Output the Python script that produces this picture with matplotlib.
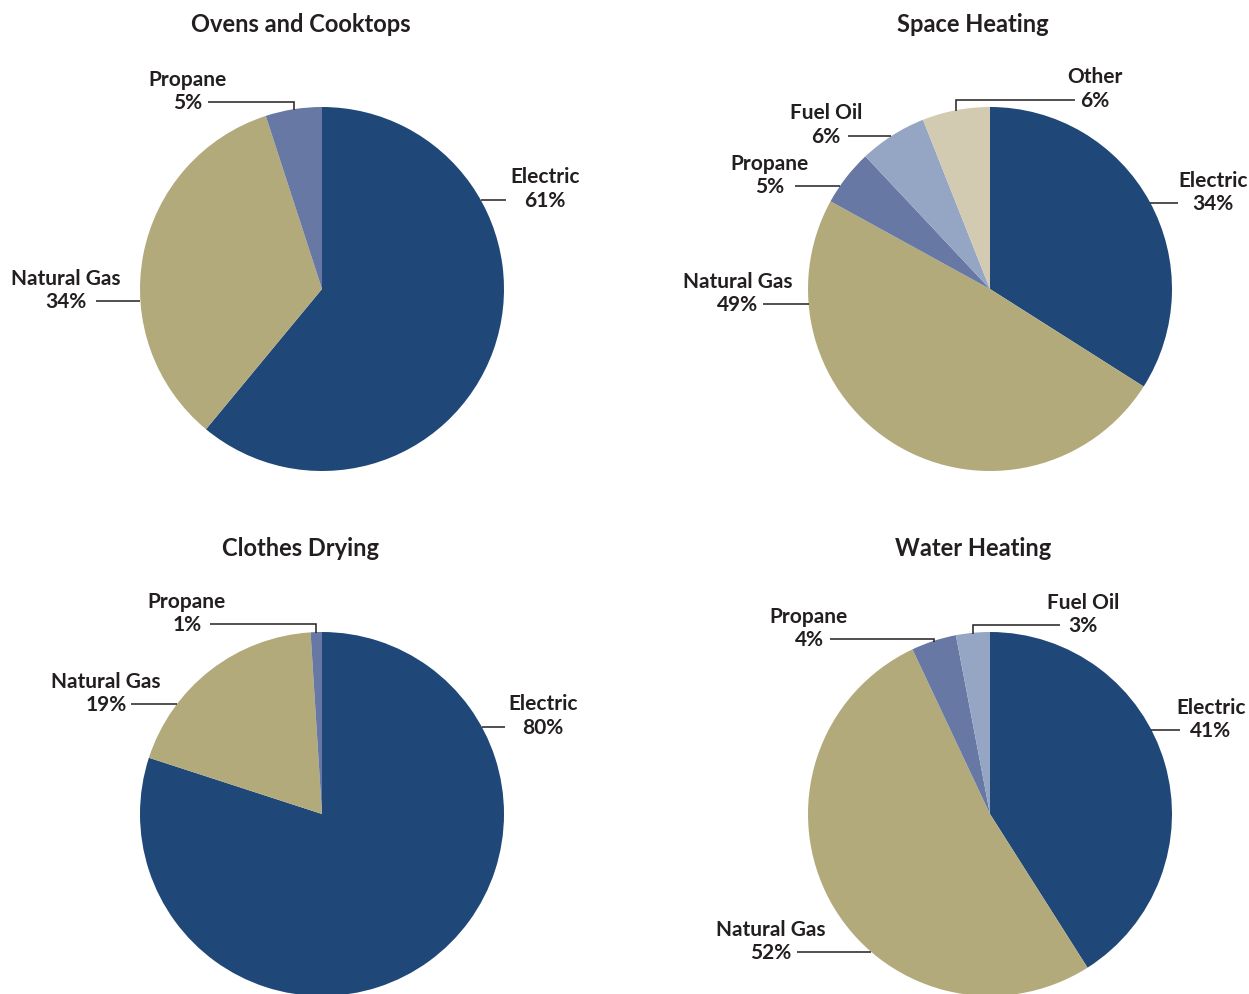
import numpy as np
import matplotlib
matplotlib.use("Agg")
import matplotlib.pyplot as plt

# ---------------- data ----------------
ovens_labels = ["Electric", "Natural Gas", "Propane"]
ovens_values = [61, 34, 5]

space_labels = ["Electric", "Natural Gas", "Propane", "Fuel Oil", "Other"]
space_values = [34, 49, 5, 6, 6]

drying_labels = ["Electric", "Natural Gas", "Propane"]
drying_values = [80, 19, 1]

water_labels = ["Electric", "Natural Gas", "Propane", "Fuel Oil"]
water_values = [41, 52, 4, 3]

titles = ["Ovens and Cooktops", "Space Heating", "Clothes Drying", "Water Heating"]

# ---------------- style ----------------
colors = {
    "Electric": "#1f4878",
    "Natural Gas": "#b3aa7c",
    "Propane": "#6678a3",
    "Fuel Oil": "#95a5c4",
    "Other": "#d3cbb1",
}
TXT = "#231f20"
FONT = "Lato"
TOFF = 2  # visual text offset (px)

W, H = 1249, 994
R = 182

# layout (pixel coords from top-left): pie centers, title positions, label placements
# label: (text center x, name y, pct y, leader start x, leader type)
panels = [
    dict(labels=ovens_labels, values=ovens_values, title=titles[0], center=(322, 289), title_xy=(301, 22),
         lab={"Electric": (545, 175, 199, 506, "h"),
              "Natural Gas": (66, 277, 300, 96, "h"),
              "Propane": (188, 78, 101, 208, "v")}),
    dict(labels=space_labels, values=space_values, title=titles[1], center=(990, 289), title_xy=(973, 22),
         lab={"Electric": (1213, 179, 202, 1178, "h"),
              "Natural Gas": (738, 280, 303, 763, "h"),
              "Propane": (770, 162, 185, 795, "h"),
              "Fuel Oil": (826, 111, 135, 848, "h"),
              "Other": (1095, 75, 99, 1075, "v")}),
    dict(labels=drying_labels, values=drying_values, title=titles[2], center=(322, 814), title_xy=(301, 546),
         lab={"Electric": (543, 702, 726, 505, "h"),
              "Natural Gas": (106, 680, 703, 131, "h"),
              "Propane": (187, 600, 623, 210, "v")}),
    dict(labels=water_labels, values=water_values, title=titles[3], center=(990, 814), title_xy=(973, 546),
         lab={"Electric": (1211, 706, 729, 1180, "h"),
              "Natural Gas": (771, 928, 951, 797, "h"),
              "Propane": (809, 615, 638, 830, "v"),
              "Fuel Oil": (1083, 601, 624, 1060, "v")}),
]

fig = plt.figure(figsize=(W / 100, H / 100), dpi=100)
ax = fig.add_axes([0, 0, 1, 1])


def Y(y):
    return H - y


for p in panels:
    cx, cy = p["center"]
    vals = p["values"]
    ax.pie(vals, colors=[colors[l] for l in p["labels"]], startangle=90, counterclock=False,
           center=(cx, Y(cy)), radius=R, wedgeprops=dict(linewidth=0, antialiased=True))
    ax.text(p["title_xy"][0], Y(p["title_xy"][1] + TOFF), p["title"], ha="center", va="center",
            fontsize=17, fontweight="bold", color=TXT, family=FONT)
    total = float(sum(vals))
    cum = 0.0
    for lab, v in zip(p["labels"], vals):
        mid = (cum + v / 2.0) / total
        cum += v
        tx, ny, py, lx0, kind = p["lab"][lab]
        ax.text(tx, Y(ny + TOFF), lab, ha="center", va="center", fontsize=15, fontweight="bold",
                color=TXT, family=FONT)
        ax.text(tx, Y(py + TOFF), f"{v}%", ha="center", va="center", fontsize=15, fontweight="bold",
                color=TXT, family=FONT)
        ly = py + 1
        if kind == "h":
            dy = ly - cy
            dx = np.sqrt(max(R ** 2 - dy ** 2, 0))
            ex = cx + dx if lx0 > cx else cx - dx
            ax.plot([lx0, ex], [Y(ly), Y(ly)], color=TXT, lw=1.1, solid_capstyle="butt")
        else:
            ang = 2 * np.pi * mid
            mx = cx + R * np.sin(ang)
            my = cy - R * np.cos(ang)
            ax.plot([lx0, mx, mx], [Y(ly), Y(ly), Y(my) - 1], color=TXT, lw=1.1,
                    solid_capstyle="butt", solid_joinstyle="miter")

ax.set_xlim(0, W)
ax.set_ylim(0, H)
ax.set_aspect("equal")
ax.axis("off")
fig.savefig("out.png", dpi=100, facecolor="white")
